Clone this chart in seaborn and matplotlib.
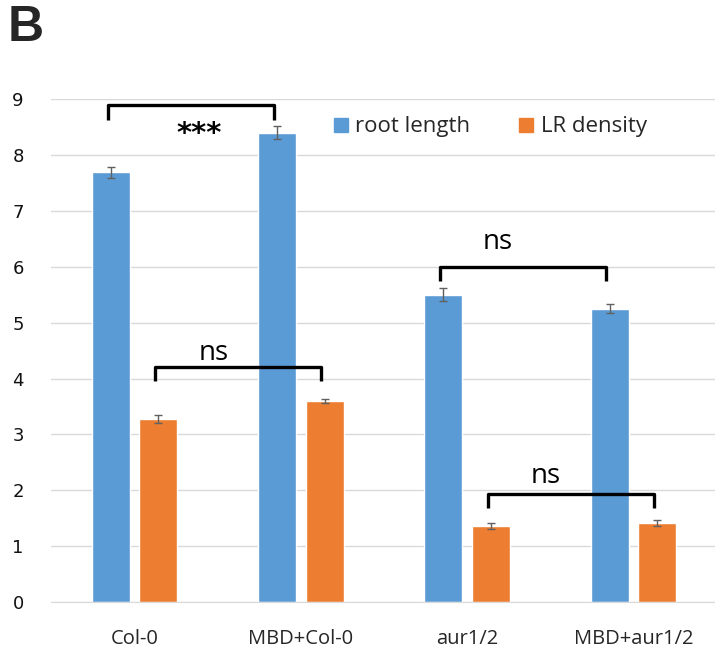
"""
Root length and LR density bar chart (panel B)
"""
import numpy as np
import pandas as pd
import matplotlib
matplotlib.use('Agg')
import matplotlib.pyplot as plt
import seaborn as sns

# Data
genotypes = ['Col-0', 'MBD+Col-0', 'aur1/2', 'MBD+aur1/2']
series = ['root length', 'LR density']
root_length = [7.69, 8.40, 5.50, 5.25]
root_length_err = [0.10, 0.11, 0.12, 0.08]
lr_density = [3.28, 3.60, 1.36, 1.42]
lr_density_err = [0.07, 0.04, 0.05, 0.05]
colors = ['#5B9BD5', '#ED7D31']

# Significance brackets: (series, group a, group b, label)
comparisons = [
    ('root length', 0, 1, '***'),
    ('LR density', 0, 1, 'ns'),
    ('root length', 2, 3, 'ns'),
    ('LR density', 2, 3, 'ns'),
]

df = pd.DataFrame({
    'genotype': genotypes * 2,
    'series': [series[0]] * 4 + [series[1]] * 4,
    'value': root_length + lr_density,
    'err': root_length_err + lr_density_err,
})

sns.set_style('white')
plt.rcParams['font.family'] = ['Open Sans', 'DejaVu Sans']

fig = plt.figure(figsize=(7.15, 6.51), dpi=100)
ax = fig.add_axes([0.072, 0.075, 0.93, 0.773])

sns.barplot(data=df, x='genotype', y='value', hue='series', order=genotypes,
            hue_order=series, palette=colors, width=0.572, gap=0.2,
            errorbar=None, saturation=1, ax=ax, legend=False)

# error bars + remember bar centres/tops
centres = {}
for container, name in zip(ax.containers, series):
    sub = df[df['series'] == name].set_index('genotype').loc[genotypes]
    xs = [p.get_x() + p.get_width() / 2 for p in container.patches]
    tops = [p.get_height() for p in container.patches]
    centres[name] = list(zip(xs, tops, sub['err'].values))
    ax.errorbar(xs, tops, yerr=sub['err'].values, fmt='none', ecolor='#606060',
                elinewidth=1, capsize=3, capthick=1)

ax.set_ylim(0, 9)
ax.set_xlim(-0.5, 3.5)
ax.set_yticks(range(0, 10))
ax.yaxis.grid(True, color='#D9D9D9', linewidth=1)
ax.set_axisbelow(True)
for s in ['left', 'right', 'top']:
    ax.spines[s].set_visible(False)
ax.spines['bottom'].set_color('#D9D9D9')
ax.tick_params(axis='y', length=0, pad=20, labelsize=13)
ax.tick_params(axis='x', length=0, pad=19, labelsize=14.5)
for lbl in ax.get_yticklabels():
    lbl.set_family('DejaVu Sans')
    lbl.set_color('#111111')
ax.set_xlabel('')
ax.set_ylabel('')

# brackets
bracket_h = {('root length', 0): (8.9, 8.63), ('LR density', 0): (4.2, 3.96),
             ('root length', 2): (6.0, 5.75), ('LR density', 2): (1.94, 1.69)}
label_y = {('root length', 0): 8.38, ('LR density', 0): 4.45,
           ('root length', 2): 6.45, ('LR density', 2): 2.25}
for name, a, b, text in comparisons:
    xa = centres[name][a][0] - 0.02
    xb = centres[name][b][0] - 0.02
    top, leg = bracket_h[(name, a)]
    ax.plot([xa, xa, xb, xb], [leg, top, top, leg], color='black', lw=2.4,
            solid_joinstyle='round', solid_capstyle='butt', clip_on=False)
    if text == '***':
        ax.text((xa + xb) / 2 + 0.05, label_y[(name, a)], text, ha='center',
                va='center', fontsize=21, fontweight='bold', color='black',
                family='DejaVu Sans')
    else:
        ax.text((xa + xb) / 2 - 0.15, label_y[(name, a)], text, ha='center',
                va='center', fontsize=20, color='black')

# legend
handles = [plt.Rectangle((0, 0), 1, 1, color=c) for c in colors]
ax.legend(handles, series, loc='upper right', bbox_to_anchor=(0.925, 1.005),
          ncol=2, frameon=False, fontsize=16, handlelength=0.6, handleheight=0.6,
          handletextpad=0.35, columnspacing=2.2)

fig.text(0.010, 0.992, 'B', fontsize=36, fontweight='bold', va='top', ha='left',
         family='Liberation Sans')

fig.savefig('out.png', dpi=100)
